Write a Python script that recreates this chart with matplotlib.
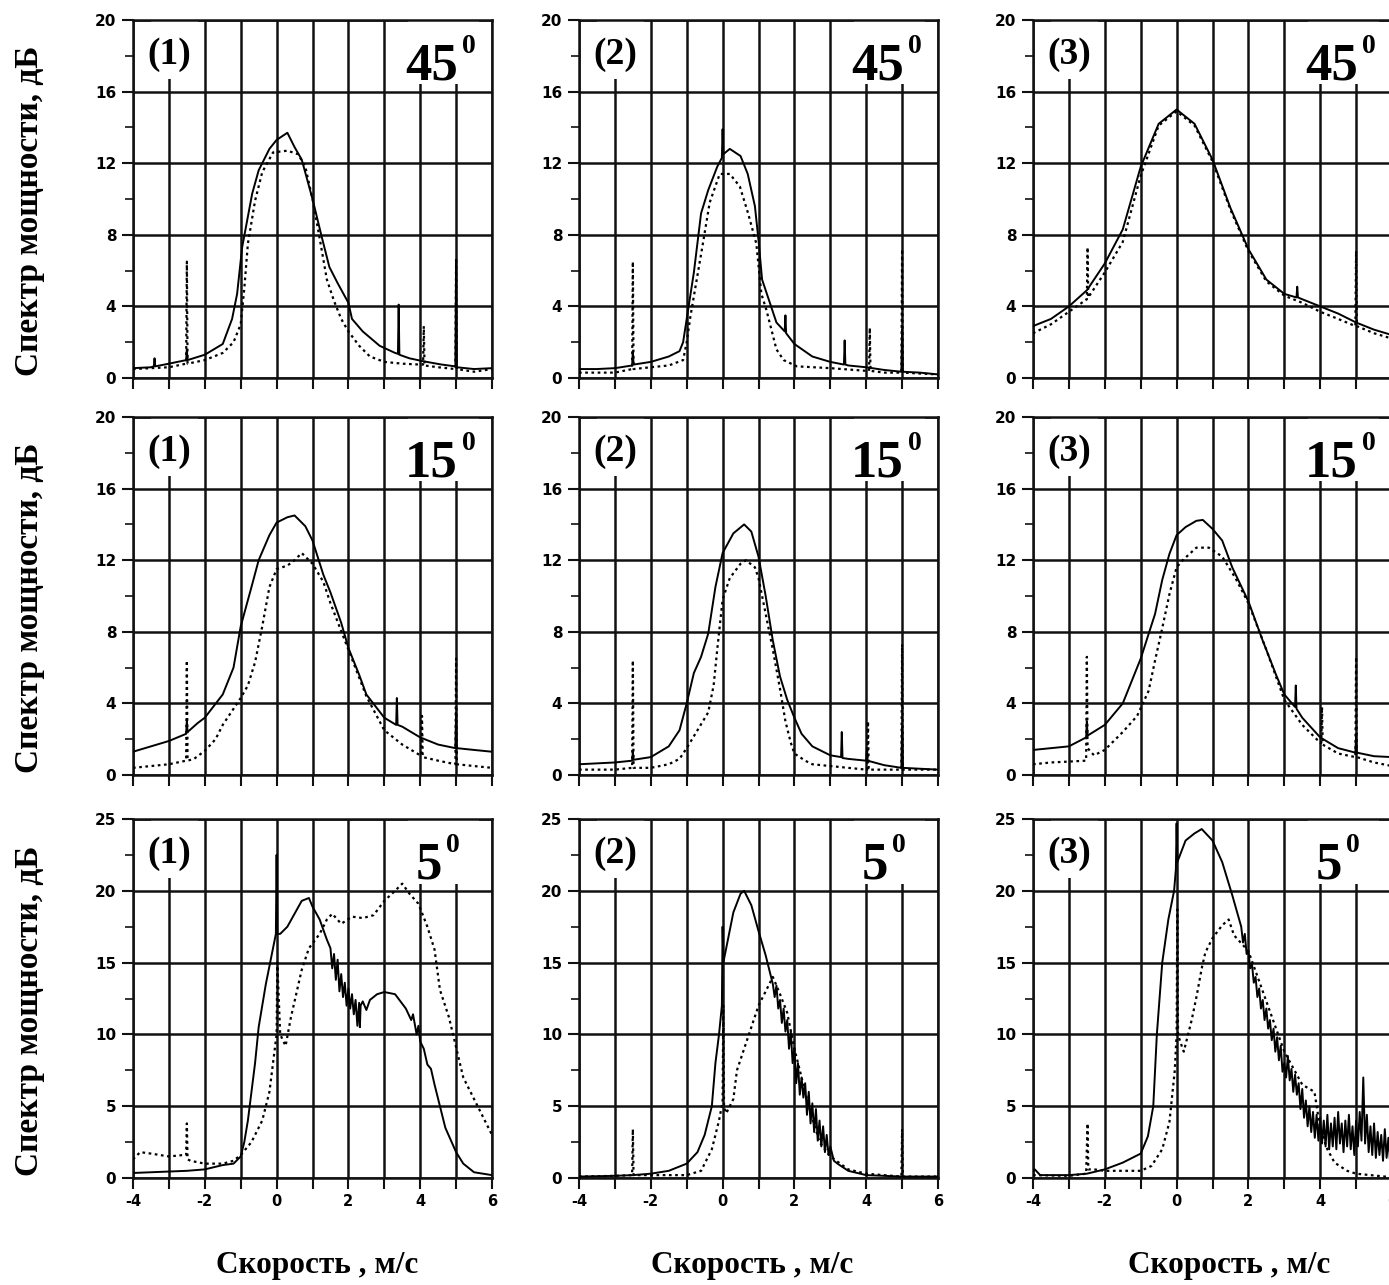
import matplotlib
matplotlib.use("Agg")
import matplotlib.pyplot as plt
from matplotlib.patches import Rectangle
from matplotlib.ticker import MultipleLocator

# ---------------- data ----------------
angles = ["45", "15", "5"]
panel_tags = ["(1)", "(2)", "(3)"]
ylabel_text = "Спектр мощности, дБ"
xlabel_text = "Скорость , м/с"
x_tick_values = [-4, -3, -2, -1, 0, 1, 2, 3, 4, 5, 6]
x_tick_labels = ["-4", "", "-2", "", "0", "", "2", "", "4", "", "6"]
y_ticks_20 = [0, 4, 8, 12, 16, 20]
y_ticks_25 = [0, 5, 10, 15, 20, 25]

# ---- 45 deg, (1)
x45_1_s = [-4, -3.5, -3.42, -3.4, -3.38, -3, -2.52, -2.5, -2.48, -2, -1.5, -1.24, -1.1, -0.96, -0.68, -0.5, -0.2, 0, 0.3, 0.5, 0.7, 1.0, 1.28, 1.47, 1.7, 2.0, 2.1, 2.4, 2.87, 3.3, 3.38, 3.4, 3.42, 3.7, 4.1, 4.6, 4.98, 5.0, 5.02, 5.5, 6]
y45_1_s = [0.55, 0.6, 0.65, 1.1, 0.65, 0.8, 1.0, 1.6, 1.0, 1.3, 1.9, 3.3, 4.7, 7.3, 10.3, 11.6, 12.8, 13.3, 13.7, 12.9, 12.2, 10.0, 7.7, 6.2, 5.3, 4.2, 3.3, 2.6, 1.8, 1.4, 1.35, 4.1, 1.3, 1.1, 0.93, 0.75, 0.65, 6.6, 0.6, 0.5, 0.55]
x45_1_d = [-4, -3.5, -3, -2.52, -2.5, -2.48, -2, -1.5, -1.2, -1.0, -0.9, -0.8, -0.6, -0.4, -0.1, 0.3, 0.6, 0.8, 1.0, 1.2, 1.4, 1.6, 1.8, 2.0, 2.3, 2.6, 3.0, 3.5, 4.0, 4.08, 4.1, 4.12, 4.5, 4.98, 5.0, 5.02, 5.5, 6]
y45_1_d = [0.5, 0.55, 0.6, 0.8, 6.5, 0.8, 1.0, 1.4, 2.0, 3.0, 5.0, 7.5, 9.9, 11.5, 12.6, 12.7, 12.5, 11.8, 10.0, 7.8, 5.5, 4.3, 3.3, 2.6, 1.8, 1.2, 0.9, 0.8, 0.75, 0.75, 2.9, 0.7, 0.6, 0.5, 6.7, 0.5, 0.35, 0.5]

# ---- 45 deg, (2)
x45_2_s = [-4, -3.5, -3, -2.52, -2.5, -2.48, -2, -1.5, -1.2, -1.1, -1.0, -0.8, -0.6, -0.4, -0.15, -0.02, 0.0, 0.02, 0.2, 0.5, 0.7, 0.9, 1.0, 1.1, 1.2, 1.5, 1.73, 1.75, 1.77, 2.0, 2.5, 3.0, 3.38, 3.4, 3.42, 3.5, 4.0, 4.5, 4.98, 5.0, 5.02, 5.5, 6]
y45_2_s = [0.5, 0.5, 0.55, 0.7, 1.5, 0.75, 0.9, 1.2, 1.5, 2.0, 3.3, 5.9, 9.2, 10.5, 11.8, 12.3, 13.9, 12.5, 12.8, 12.4, 11.4, 9.6, 7.7, 5.5, 4.9, 3.1, 2.6, 3.5, 2.5, 1.9, 1.2, 0.9, 0.75, 2.1, 0.75, 0.7, 0.6, 0.45, 0.35, 2.7, 0.35, 0.3, 0.2]
x45_2_d = [-4, -3, -2.52, -2.5, -2.48, -2, -1.5, -1.1, -1.0, -0.9, -0.55, -0.36, -0.08, 0.2, 0.48, 0.71, 0.94, 1.08, 1.22, 1.5, 1.7, 2.07, 3.0, 4.0, 4.08, 4.1, 4.12, 4.5, 4.98, 5.0, 5.02, 5.5, 6]
y45_2_d = [0.3, 0.3, 0.5, 6.5, 0.5, 0.6, 0.7, 1.0, 2.0, 3.4, 7.5, 9.8, 11.4, 11.4, 10.7, 9.2, 7.5, 4.7, 3.8, 1.6, 1.0, 0.65, 0.55, 0.4, 0.4, 2.8, 0.4, 0.3, 0.3, 7.2, 0.3, 0.25, 0.2]

# ---- 45 deg, (3)
x45_3_s = [-4, -3.5, -3, -2.5, -2, -1.5, -1, -0.5, 0, 0.5, 1, 1.5, 2, 2.5, 3, 3.34, 3.36, 3.38, 3.5, 4, 4.5, 5, 5.5, 6]
y45_3_s = [2.9, 3.3, 4.0, 4.9, 6.4, 8.3, 11.8, 14.2, 15.0, 14.2, 12.2, 9.5, 7.2, 5.5, 4.7, 4.5, 5.1, 4.5, 4.4, 4.0, 3.6, 3.1, 2.7, 2.4]
x45_3_d = [-4, -3.5, -3, -2.5, -2.48, -2.46, -2, -1.5, -1, -0.5, 0, 0.5, 1, 1.5, 2, 2.5, 3, 3.5, 4, 4.5, 4.98, 5.0, 5.02, 5.5, 6]
y45_3_d = [2.5, 3.0, 3.7, 4.4, 7.3, 4.5, 5.9, 7.6, 11.3, 14.1, 14.9, 14.1, 12.1, 9.4, 7.1, 5.4, 4.6, 4.2, 3.7, 3.3, 2.9, 7.1, 2.9, 2.5, 2.2]

# ---- 15 deg, (1)
x15_1_s = [-4, -3.5, -3, -2.52, -2.5, -2.48, -2.2, -2, -1.5, -1.2, -1, -0.7, -0.5, -0.2, 0, 0.3, 0.5, 0.8, 1.0, 1.3, 1.5, 1.8, 2.0, 2.3, 2.5, 3.0, 3.33, 3.35, 3.37, 3.5, 4.0, 4.5, 4.98, 5.0, 5.02, 5.5, 6]
y15_1_s = [1.3, 1.6, 1.9, 2.3, 3.0, 2.4, 2.9, 3.2, 4.5, 6.0, 8.3, 10.5, 12.0, 13.4, 14.1, 14.4, 14.5, 13.9, 13.1, 11.2, 10.2, 8.5, 7.1, 5.6, 4.5, 3.2, 2.8, 4.3, 2.8, 2.7, 2.1, 1.7, 1.5, 3.5, 1.5, 1.4, 1.3]
x15_1_d = [-4, -3.5, -3, -2.52, -2.5, -2.48, -2.3, -2, -1.7, -1.5, -1.2, -1.0, -0.8, -0.6, -0.4, -0.2, 0, 0.3, 0.5, 0.7, 0.9, 1.0, 1.3, 1.5, 2.0, 2.5, 3.0, 3.5, 4.0, 4.03, 4.05, 4.07, 4.5, 4.98, 5.0, 5.02, 5.5, 6]
y15_1_d = [0.4, 0.5, 0.6, 0.8, 6.4, 0.8, 0.9, 1.35, 2.0, 2.8, 3.7, 4.3, 5.0, 6.3, 8.3, 10.5, 11.5, 11.7, 12.0, 12.4, 12.0, 11.8, 10.8, 9.6, 7.0, 4.4, 2.5, 1.7, 1.1, 1.1, 3.3, 1.0, 0.8, 0.6, 6.5, 0.6, 0.5, 0.4]

# ---- 15 deg, (2)
x15_2_s = [-4, -3.5, -3, -2.52, -2.5, -2.48, -2, -1.5, -1.2, -1.0, -0.8, -0.6, -0.4, -0.2, 0, 0.3, 0.6, 0.8, 1.0, 1.2, 1.4, 1.6, 1.8, 2.0, 2.2, 2.5, 3.0, 3.3, 3.32, 3.34, 3.5, 4.0, 4.02, 4.04, 4.5, 4.98, 5.0, 5.02, 5.5, 6]
y15_2_s = [0.6, 0.65, 0.7, 0.8, 1.3, 0.85, 1.0, 1.6, 2.5, 4.0, 5.7, 6.6, 7.9, 10.5, 12.4, 13.5, 14.0, 13.6, 12.2, 10.0, 7.5, 5.5, 4.2, 3.2, 2.3, 1.6, 1.1, 1.0, 2.4, 0.95, 0.9, 0.8, 1.5, 0.8, 0.55, 0.4, 2.7, 0.4, 0.35, 0.3]
x15_2_d = [-4, -3, -2.52, -2.5, -2.48, -2, -1.5, -1.2, -1.0, -0.7, -0.4, -0.25, -0.15, 0, 0.2, 0.5, 0.65, 0.9, 1.0, 1.2, 1.4, 1.6, 1.75, 1.9, 2.0, 2.3, 2.5, 3.0, 3.5, 4.0, 4.03, 4.05, 4.07, 4.5, 4.98, 5.0, 5.02, 5.5, 6]
y15_2_d = [0.3, 0.3, 0.4, 6.4, 0.4, 0.4, 0.6, 0.9, 1.5, 2.5, 3.5, 5.0, 7.0, 9.8, 11.0, 11.8, 12.0, 11.6, 11.0, 9.0, 7.0, 4.8, 3.0, 1.8, 1.2, 0.8, 0.6, 0.5, 0.4, 0.3, 0.3, 3.0, 0.3, 0.3, 0.3, 7.3, 0.3, 0.3, 0.3]

# ---- 15 deg, (3)
x15_3_s = [-4, -3.5, -3, -2.52, -2.5, -2.48, -2, -1.5, -1.0, -0.6, -0.4, -0.2, 0, 0.25, 0.55, 0.73, 1.0, 1.27, 1.55, 2.0, 2.4, 2.77, 3.0, 3.3, 3.32, 3.34, 3.5, 4.0, 4.5, 4.98, 5.0, 5.02, 5.5, 6]
y15_3_s = [1.4, 1.5, 1.6, 2.1, 3.0, 2.2, 2.8, 4.0, 6.5, 9.0, 10.9, 12.35, 13.4, 13.85, 14.2, 14.25, 13.75, 13.1, 11.6, 9.7, 7.5, 5.6, 4.5, 3.8, 5.0, 3.7, 3.2, 2.1, 1.5, 1.25, 2.2, 1.25, 1.05, 1.0]
x15_3_d = [-4, -3.5, -3, -2.52, -2.5, -2.48, -2.3, -2.0, -1.5, -1.1, -0.78, -0.6, -0.4, -0.2, 0, 0.17, 0.55, 0.9, 1.27, 1.64, 2.0, 2.5, 3.0, 3.5, 4.0, 4.03, 4.05, 4.07, 4.5, 4.98, 5.0, 5.02, 5.5, 6]
y15_3_d = [0.6, 0.7, 0.75, 0.8, 6.6, 1.5, 1.1, 1.4, 2.4, 3.3, 4.7, 6.4, 8.2, 10.1, 11.6, 12.0, 12.7, 12.7, 12.2, 11.0, 9.6, 7.0, 4.2, 2.8, 1.8, 1.8, 3.8, 1.7, 1.2, 1.0, 6.6, 1.0, 0.7, 0.5]

# ---- 5 deg, (1)
x5_1_s = [-4, -3.5, -3, -2.5, -2, -1.5, -1.2, -1.0, -0.9, -0.8, -0.7, -0.6, -0.5, -0.3, -0.1, -0.02, 0.0, 0.02, 0.1, 0.3, 0.5, 0.7, 0.9, 1.0, 1.2, 1.4,
          1.5, 1.55, 1.6, 1.65, 1.7, 1.75, 1.8, 1.85, 1.9, 1.95, 2.0, 2.05, 2.1, 2.15, 2.2, 2.25, 2.3, 2.32, 2.34, 2.4, 2.5, 2.6, 2.8, 3.0, 3.3, 3.6, 3.75, 3.8, 3.9, 3.95, 4.0, 4.1, 4.2, 4.3, 4.4, 4.5, 4.7, 5.0, 5.2, 5.5, 6]
y5_1_s = [0.35, 0.4, 0.45, 0.5, 0.6, 0.9, 1.0, 1.5, 2.5, 4.0, 6.0, 8.0, 10.5, 13.5, 16.0, 17.0, 22.5, 17.0, 17.0, 17.5, 18.4, 19.3, 19.5, 18.9, 18.0, 16.6,
          16.0, 14.6, 15.6, 13.8, 15.2, 13.0, 14.2, 12.6, 13.6, 12.0, 13.2, 11.8, 12.8, 11.4, 12.4, 10.6, 12.2, 10.5, 12.0, 12.3, 11.7, 12.4, 12.8, 12.95, 12.8, 11.8, 11.0, 11.4, 10.0, 10.6, 9.5, 9.0, 7.9, 7.6, 6.5, 5.5, 3.5, 1.8, 1.0, 0.4, 0.2]
x5_1_d = [-4, -3.8, -3.5, -3.0, -2.6, -2.52, -2.5, -2.48, -2.4, -2.0, -1.5, -1.2, -1.0, -0.7, -0.4, -0.2, -0.1, 0.0, 0.02, 0.1, 0.25, 0.4, 0.7, 0.9, 1.2, 1.4, 1.55, 1.8, 2.1, 2.4, 2.7, 3.0, 3.3, 3.5, 3.7, 3.95, 4.2, 4.4, 4.55, 4.8, 5.0, 5.2, 5.5, 6]
y5_1_d = [1.3, 1.8, 1.7, 1.5, 1.6, 1.6, 3.8, 1.3, 1.2, 1.0, 1.0, 1.2, 1.6, 2.5, 4.0, 6.0, 8.0, 10.0, 15.0, 10.0, 9.2, 11.2, 14.5, 16.0, 17.0, 18.0, 18.4, 17.7, 18.2, 18.1, 18.3, 19.3, 20.0, 20.5, 19.8, 19.1, 17.5, 15.9, 13.1, 11.2, 9.1, 7.0, 5.5, 3.0]

# ---- 5 deg, (2)
x5_2_s = [-4, -3, -2.5, -2, -1.5, -1.0, -0.7, -0.5, -0.3, -0.2, -0.1, -0.02, 0.0, 0.02, 0.1, 0.3, 0.5, 0.6, 0.8, 1.0, 1.2,
          1.4, 1.45, 1.5, 1.55, 1.6, 1.65, 1.7, 1.75, 1.8, 1.85, 1.9, 1.95, 2.0, 2.05, 2.1, 2.15, 2.2, 2.25, 2.3, 2.35, 2.4, 2.45, 2.5, 2.55, 2.6, 2.65, 2.7, 2.75, 2.8, 2.85, 2.9, 2.95, 3.0, 3.1, 3.2, 3.5, 4.0, 5.0, 6]
y5_2_s = [0.1, 0.15, 0.2, 0.3, 0.5, 1.0, 1.8, 3.0, 5.0, 8.0, 10.0, 12.0, 17.5, 15.0, 16.0, 18.5, 19.8, 20.0, 19.0, 17.2, 15.5,
          13.5, 12.6, 13.4, 11.8, 12.4, 10.8, 11.8, 10.2, 11.0, 9.0, 10.2, 8.0, 9.0, 6.6, 8.0, 5.8, 7.0, 5.6, 6.6, 4.4, 6.0, 3.8, 5.2, 3.2, 4.8, 2.6, 4.0, 2.2, 3.6, 1.8, 3.0, 1.6, 2.2, 1.2, 1.0, 0.5, 0.2, 0.1, 0.1]
x5_2_d = [-4, -3, -2.52, -2.5, -2.48, -2.0, -1.0, -0.6, -0.3, -0.1, 0, 0.02, 0.04, 0.1, 0.3, 0.4, 0.6, 0.8, 1.0, 1.2, 1.4, 1.6, 1.8, 2.0, 2.4, 2.7, 3.0, 3.5, 4.0, 4.98, 5.0, 5.02, 6]
y5_2_d = [0.1, 0.15, 0.2, 3.4, 0.2, 0.2, 0.2, 0.5, 2.0, 4.0, 5.3, 12.0, 5.0, 4.5, 5.5, 7.5, 9.0, 10.5, 12.0, 13.0, 14.0, 12.8, 11.5, 9.0, 5.0, 2.5, 1.5, 0.6, 0.3, 0.1, 3.4, 0.1, 0.1]

# ---- 5 deg, (3)
x5_3_s = [-4, -3.95, -3.8, -3.0, -2.5, -2.0, -1.5, -1.0, -0.8, -0.65, -0.55, -0.4, -0.23, -0.07, -0.02, 0.0, 0.02, 0.25, 0.5, 0.7, 1.0, 1.27, 1.55,
          1.8, 1.85, 1.9, 1.95, 2.0, 2.05, 2.1, 2.15, 2.2, 2.25, 2.3, 2.35, 2.4, 2.45, 2.5, 2.55, 2.6, 2.65, 2.7, 2.75, 2.8, 2.85, 2.9, 2.95,
          3.0, 3.05, 3.1, 3.15, 3.2, 3.25, 3.3, 3.35, 3.4, 3.45, 3.5, 3.55, 3.6, 3.65, 3.7, 3.75, 3.8, 3.85, 3.9, 3.95,
          4.0, 4.05, 4.1, 4.15, 4.2, 4.25, 4.3, 4.35, 4.4, 4.45, 4.5, 4.55, 4.6, 4.65, 4.7, 4.75, 4.8, 4.85, 4.9, 4.95,
          5.0, 5.05, 5.1, 5.15, 5.2, 5.25, 5.3, 5.35, 5.4, 5.45, 5.5, 5.55, 5.6, 5.65, 5.7, 5.75, 5.8, 5.85, 5.9, 5.95, 6.0]
y5_3_s = [0.5, 0.6, 0.2, 0.2, 0.3, 0.6, 1.07, 1.7, 2.9, 5.0, 10.0, 15.0, 18.0, 20.0, 21.5, 24.7, 22.0, 23.5, 24.0, 24.3, 23.5, 22.0, 19.7,
          17.5, 16.4, 17.0, 15.6, 15.8, 14.6, 14.9, 13.6, 14.0, 12.6, 13.2, 11.8, 12.4, 11.0, 11.8, 10.4, 11.0, 9.6, 10.4, 8.8, 9.8, 8.2, 9.2, 7.4,
          8.0, 7.0, 8.5, 6.8, 7.6, 6.0, 7.2, 5.8, 6.6, 4.8, 6.2, 4.2, 5.4, 3.6, 5.0, 3.2, 4.6, 2.8, 4.4, 2.6,
          4.2, 2.4, 4.0, 2.2, 4.4, 2.0, 3.8, 2.2, 4.2, 2.0, 4.6, 2.4, 3.8, 1.8, 4.0, 2.2, 4.4, 2.0, 3.6, 1.6,
          4.0, 2.2, 4.6, 2.6, 7.0, 2.4, 4.4, 1.8, 3.6, 1.6, 3.8, 1.4, 3.2, 1.6, 3.0, 1.2, 3.4, 1.4, 2.8, 1.0, 2.0]
x5_3_d = [-4, -3, -2.52, -2.48, -2.46, -2.3, -2.0, -1.5, -1.0, -0.7, -0.4, -0.2, -0.05, 0.0, 0.02, 0.04, 0.1, 0.2, 0.42, 0.56, 0.7, 0.8, 1.0, 1.27, 1.45, 1.6, 2.0, 2.5, 3.0, 3.5, 3.84, 4.0, 4.2, 4.4, 4.75, 5.0, 5.8, 6]
y5_3_d = [0.2, 0.15, 0.3, 3.8, 0.6, 0.6, 0.5, 0.5, 0.5, 0.84, 2.0, 3.9, 7.5, 10.0, 18.7, 10.0, 9.5, 8.8, 11.0, 12.7, 14.6, 15.7, 16.7, 17.6, 18.0, 16.9, 15.8, 12.3, 8.8, 6.5, 6.0, 3.4, 2.0, 1.07, 0.5, 0.3, 0.1, 0.1]

solid_x = [[x45_1_s, x45_2_s, x45_3_s], [x15_1_s, x15_2_s, x15_3_s], [x5_1_s, x5_2_s, x5_3_s]]
solid_y = [[y45_1_s, y45_2_s, y45_3_s], [y15_1_s, y15_2_s, y15_3_s], [y5_1_s, y5_2_s, y5_3_s]]
dot_x = [[x45_1_d, x45_2_d, x45_3_d], [x15_1_d, x15_2_d, x15_3_d], [x5_1_d, x5_2_d, x5_3_d]]
dot_y = [[y45_1_d, y45_2_d, y45_3_d], [y15_1_d, y15_2_d, y15_3_d], [y5_1_d, y5_2_d, y5_3_d]]

# ---------------- layout ----------------
W, H = 1389, 1285
fig = plt.figure(figsize=(W / 100, H / 100), dpi=100)
fig.patch.set_facecolor("white")

col_left = [133, 579, 1033]
ax_w = 359
row_top = [20, 417, 819]
row_h = [358, 358, 359]

serif = ["Liberation Serif", "DejaVu Serif"]
sans = ["DejaVu Sans"]
LW = 1.8

for r in range(3):
    ymax = 25 if r == 2 else 20
    yt = y_ticks_25 if r == 2 else y_ticks_20
    for c in range(3):
        left = col_left[c] / W
        bottom = 1 - (row_top[r] + row_h[r]) / H
        ax = fig.add_axes([left, bottom, ax_w / W, row_h[r] / H])
        ax.set_xlim(-4, 6)
        ax.set_ylim(0, ymax)
        ax.set_xticks(x_tick_values)
        ax.set_yticks(yt)
        ax.yaxis.set_minor_locator(MultipleLocator(yt[1] / 2))
        ax.grid(True, which="major", color="#111111", lw=LW)
        ax.set_axisbelow(True)
        for sp in ax.spines.values():
            sp.set_linewidth(LW)
            sp.set_color("#111111")
        ax.tick_params(which="major", direction="out", length=8, width=1.5, color="#111111")
        ax.tick_params(which="minor", axis="y", direction="out", length=6, width=1.2, color="#111111")
        ax.tick_params(axis="y", labelsize=11, pad=4)
        for lab in ax.get_yticklabels():
            lab.set_fontweight("bold")
            lab.set_family(sans)
        if r == 2:
            ax.set_xticklabels(x_tick_labels, fontsize=10.5, fontweight="bold", family=sans)
        else:
            ax.set_xticklabels([""] * len(x_tick_values))

        # white label backgrounds (break the grid like the original)
        ax.add_patch(Rectangle((0.05, 0.835), 0.13, 0.165, transform=ax.transAxes,
                               facecolor="white", edgecolor="none", zorder=1.5))
        ax.add_patch(Rectangle((0.765, 0.82), 0.2, 0.18, transform=ax.transAxes,
                               facecolor="white", edgecolor="none", zorder=1.5))

        ax.plot(dot_x[r][c], dot_y[r][c], color="black", lw=1.6,
                linestyle=(0, (1.2, 1.6)), zorder=3)
        ax.plot(solid_x[r][c], solid_y[r][c], color="black", lw=1.4, zorder=4)

        ax.text(0.04, 0.905, panel_tags[c], transform=ax.transAxes, fontsize=27,
                fontweight="bold", family=serif, ha="left", va="center", zorder=5)
        num = angles[r]
        num_right = 0.905 if r < 2 else 0.86
        ax.text(num_right, 0.87, num, transform=ax.transAxes, fontsize=38,
                fontweight="bold", family=serif, ha="right", va="center", zorder=5)
        ax.text(num_right + 0.012, 0.925, "0", transform=ax.transAxes, fontsize=20,
                fontweight="bold", family=serif, ha="left", va="center", zorder=5)

    # row y-label
    yc = 1 - (row_top[r] + row_h[r] / 2 + 12) / H
    fig.text(30 / W, yc, ylabel_text, rotation=90, ha="center", va="center",
             fontsize=24, fontweight="bold", family=serif)

xl_centers = [317, 752, 1229]
for c in range(3):
    fig.text(xl_centers[c] / W, 1 - 1265 / H, xlabel_text, ha="center", va="center",
             fontsize=22.5, fontweight="bold", family=serif)

fig.savefig("out.png", dpi=100, facecolor="white")
